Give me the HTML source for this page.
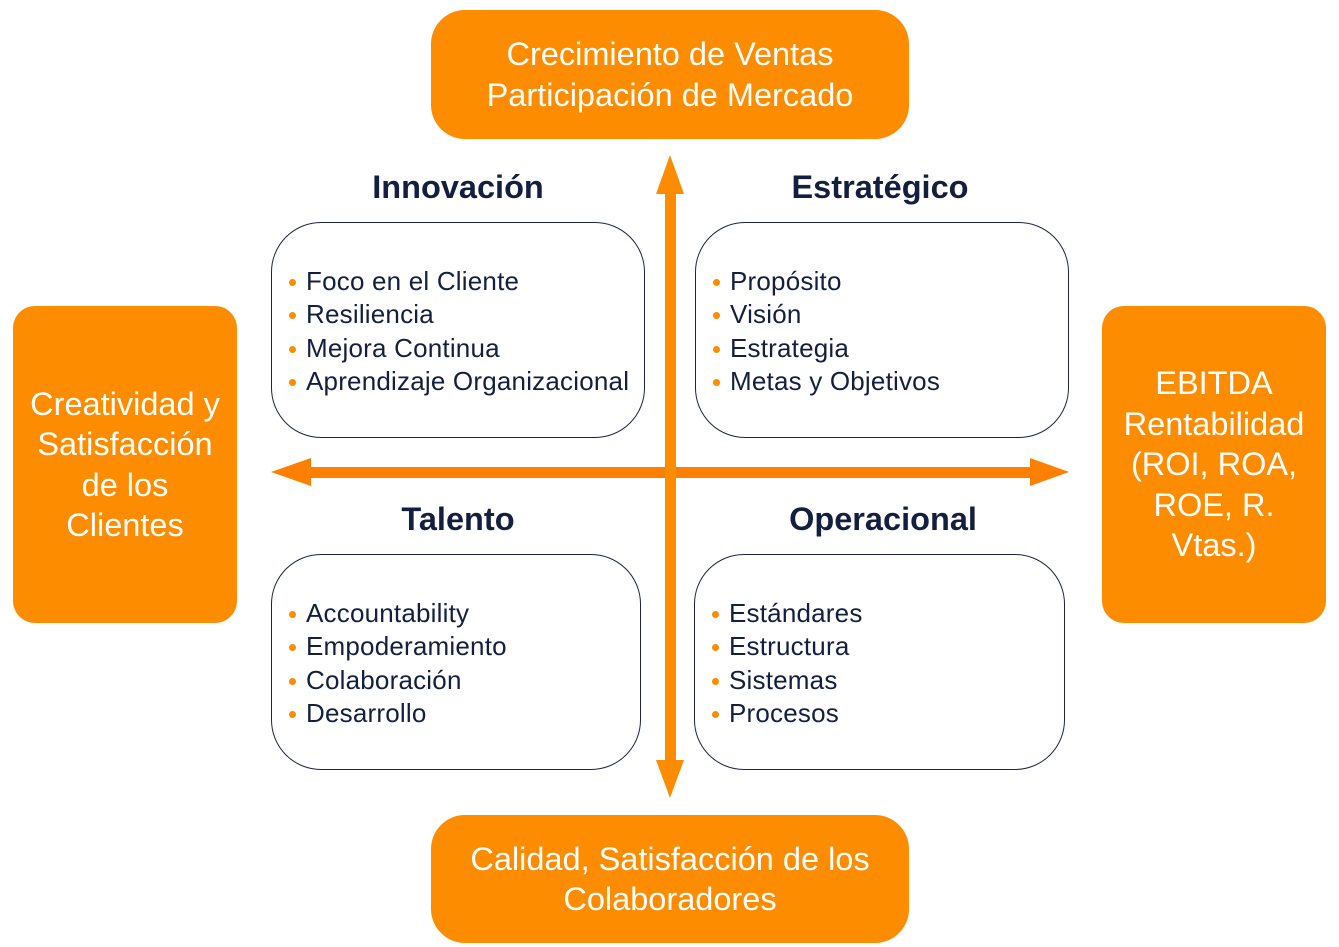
<!DOCTYPE html>
<html><head><meta charset="utf-8"><style>
body{margin:0;width:1339px;height:947px;background:#fff;position:relative;overflow:hidden;font-family:"Liberation Sans",Arial,sans-serif}
.o{position:absolute;background:#fd8c00;color:#fff;border-radius:34px;display:flex;align-items:center;justify-content:center;text-align:center;font-size:32.5px;line-height:40.5px}
.q{position:absolute;border:1.8px solid #1b2445;border-radius:50px;box-sizing:border-box;background:#fff}
.t{position:absolute;font-weight:bold;font-size:32.5px;color:#141f40;transform:translateX(-50%);white-space:nowrap;line-height:36px}
ul{position:absolute;margin:0;padding:0;list-style:none;font-size:26px;letter-spacing:0.2px;line-height:33.3px;color:#141f40}
li{position:relative;padding-left:35px;white-space:nowrap}
li:before{content:"";position:absolute;left:18px;top:14px;width:7px;height:7px;border-radius:50%;background:#fd8c00}
</style></head><body>
<div class="o" style="left:431px;top:10px;width:478px;height:129px">Crecimiento de Ventas<br>Participación de Mercado</div>
<div class="o" style="left:431px;top:815px;width:478px;height:128px">Calidad, Satisfacción de los<br>Colaboradores</div>
<div class="o" style="left:13px;top:306px;width:224px;height:317px;border-radius:22px">Creatividad y<br>Satisfacción<br>de los<br>Clientes</div>
<div class="o" style="left:1102px;top:306px;width:224px;height:317px;border-radius:22px">EBITDA<br>Rentabilidad<br>(ROI, ROA,<br>ROE, R.<br>Vtas.)</div>
<div class="q" style="left:271px;top:222px;width:374px;height:216px"></div>
<div class="q" style="left:695px;top:222px;width:374px;height:216px"></div>
<div class="q" style="left:271px;top:554px;width:370px;height:216px"></div>
<div class="q" style="left:694px;top:554px;width:371px;height:216px"></div>
<svg style="position:absolute;left:0;top:0" width="1339" height="947">
<rect x="305" y="467" width="730" height="11" fill="#ff7f00"/>
<polygon points="271,472 311,458 311,486" fill="#ff7f00"/>
<polygon points="1069,472 1030,458 1030,486" fill="#ff7f00"/>
<rect x="665" y="185" width="11" height="580" fill="#fd8c00"/>
<polygon points="670,155 656,194 684,194" fill="#fd8c00"/>
<polygon points="670,798 656,760 684,760" fill="#fd8c00"/>
</svg>
<div class="t" style="left:458px;top:169px">Innovación</div>
<div class="t" style="left:880px;top:169px">Estratégico</div>
<div class="t" style="left:458px;top:501px">Talento</div>
<div class="t" style="left:883px;top:501px">Operacional</div>
<ul style="left:271px;top:265px"><li>Foco en el Cliente</li><li>Resiliencia</li><li>Mejora Continua</li><li>Aprendizaje Organizacional</li></ul>
<ul style="left:695px;top:265px"><li>Propósito</li><li>Visión</li><li>Estrategia</li><li>Metas y Objetivos</li></ul>
<ul style="left:271px;top:597px"><li>Accountability</li><li>Empoderamiento</li><li>Colaboración</li><li>Desarrollo</li></ul>
<ul style="left:694px;top:597px"><li>Estándares</li><li>Estructura</li><li>Sistemas</li><li>Procesos</li></ul>
</body></html>
